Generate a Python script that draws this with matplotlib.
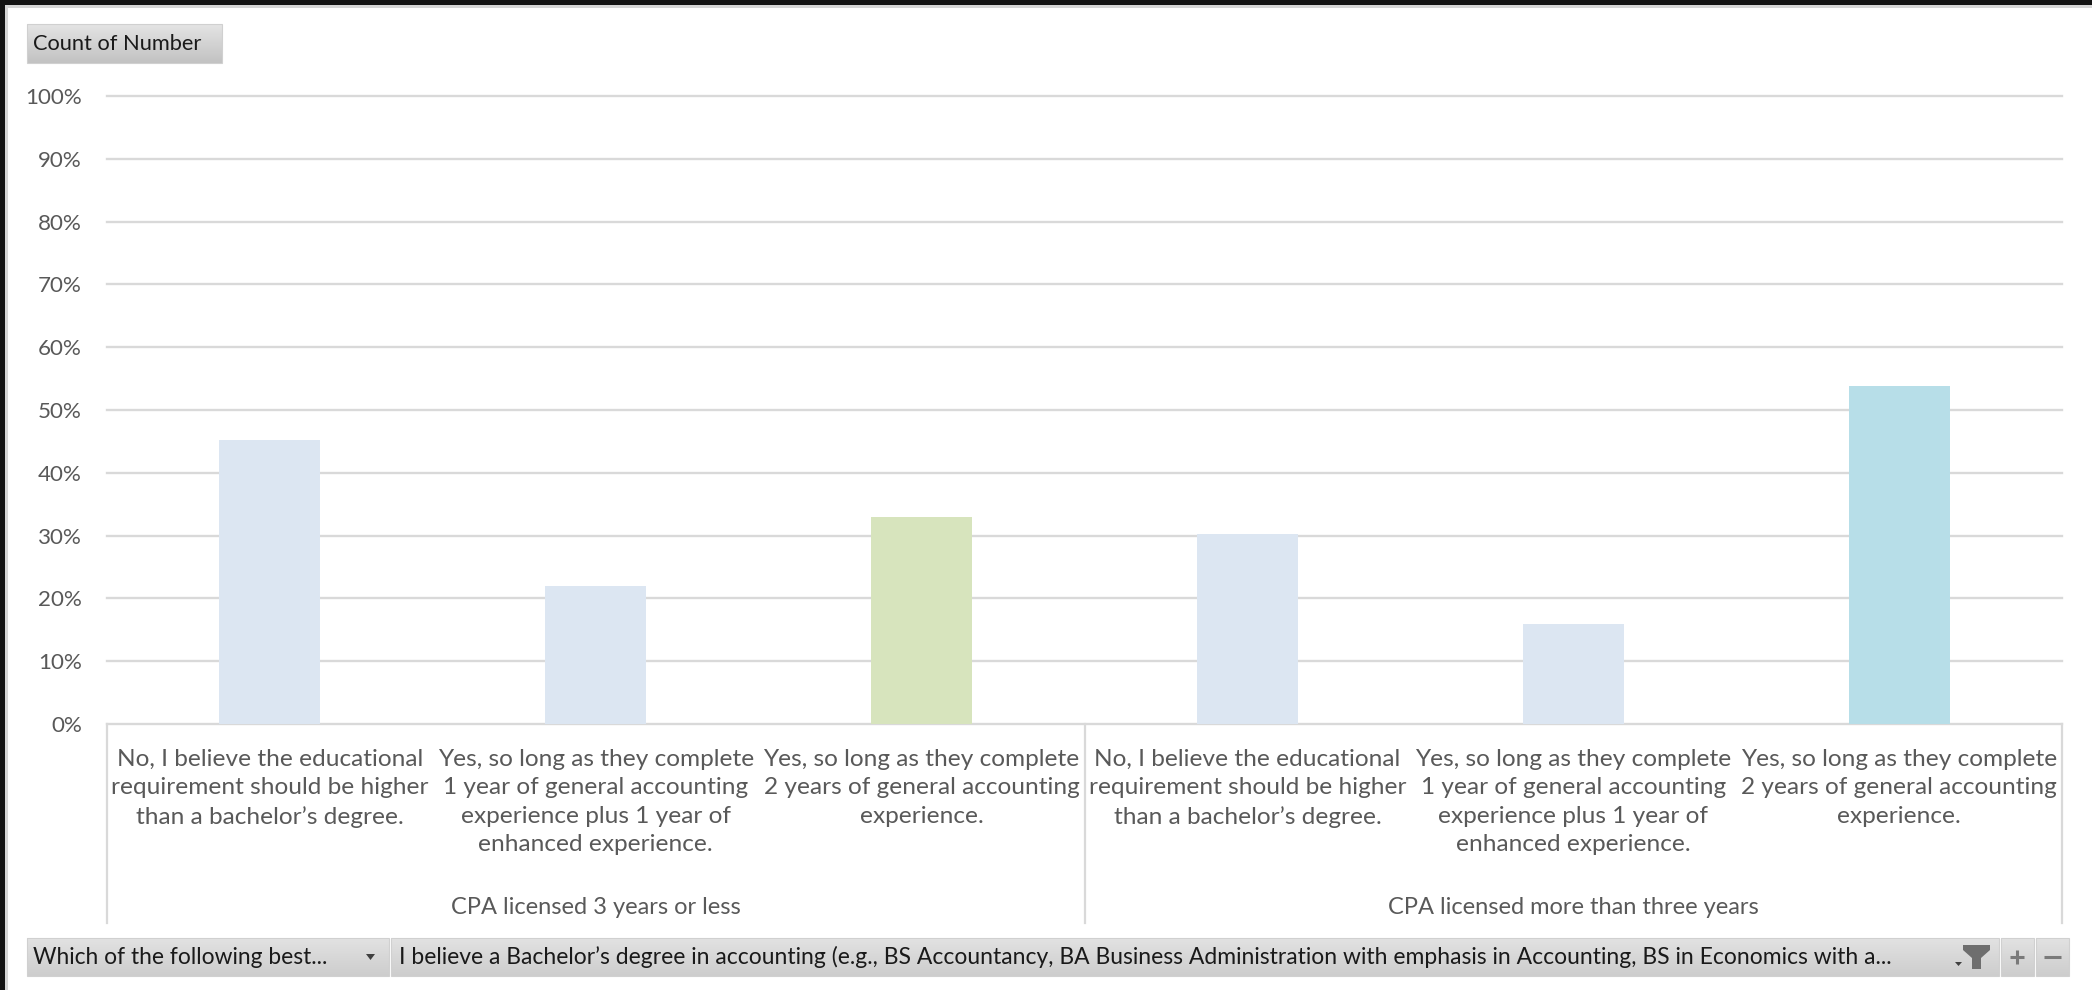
import matplotlib
matplotlib.use("Agg")
import matplotlib.pyplot as plt
import numpy as np
from matplotlib.patches import Rectangle, Polygon
import matplotlib.transforms as mtransforms

# ---------------- data ----------------
groups = ["CPA licensed 3 years or less", "CPA licensed more than three years"]
answers = [
    "No, I believe the educational\nrequirement should be higher\nthan a bachelor\u2019s degree.",
    "Yes, so long as they complete\n1 year of general accounting\nexperience plus 1 year of\nenhanced experience.",
    "Yes, so long as they complete\n2 years of general accounting\nexperience.",
]
values_group1 = [0.452, 0.219, 0.329]
values_group2 = [0.302, 0.159, 0.539]
bar_colors = ["#dce6f2", "#dce6f2", "#d7e4bd", "#dce6f2", "#dce6f2", "#b7dee8"]
y_ticks = [0.0, 0.1, 0.2, 0.3, 0.4, 0.5, 0.6, 0.7, 0.8, 0.9, 1.0]
y_tick_labels = ["0%", "10%", "20%", "30%", "40%", "50%", "60%", "70%", "80%", "90%", "100%"]
field_button = "Count of Number"
filter_left = "Which of the following best..."
filter_right = ("I believe a Bachelor\u2019s degree in accounting (e.g., BS Accountancy, BA Business "
                "Administration with emphasis in Accounting, BS in Economics with a...")

FONT = "Lato"
TXT = "#595959"
GRID = "#d9d9d9"

W, H = 2092, 990
fig = plt.figure(figsize=(W / 100, H / 100), dpi=100)
fig.patch.set_facecolor("white")
renderer = fig.canvas.get_renderer()


def fit_size(text, target_px, family=FONT):
    t = fig.text(0, 0, text, fontsize=20, family=family)
    w = t.get_window_extent(renderer).width
    t.remove()
    return 20 * target_px / w


fs_cat = fit_size("requirement should be higher", 318)
fs_grp = fit_size("CPA licensed 3 years or less", 291)
fs_tick = fit_size("100%", 57)
fs_btn = fit_size(field_button, 170)
fs_bar1 = fit_size(filter_left, 294)
fs_bar2 = fit_size(filter_right, 1489)

# ---------- chrome overlay (pixel coordinates) ----------
ov = fig.add_axes([0, 0, 1, 1], zorder=0)
ov.set_xlim(0, W)
ov.set_ylim(H, 0)
ov.axis("off")
ov.patch.set_alpha(0)

ov.add_patch(Rectangle((0, 0), W, 5, color="#141414", lw=0))
ov.add_patch(Rectangle((0, 0), 5, H, color="#141414", lw=0))
ov.add_patch(Rectangle((5, 5), W, 2.5, color="#d6d6d6", lw=0))
ov.add_patch(Rectangle((5, 5), 2.5, H, color="#d6d6d6", lw=0))


def grad_button(x0, y0, x1, y1, top="#e6e6e6", bot="#c4c4c4"):
    c0 = np.array(matplotlib.colors.to_rgb(top))
    c1 = np.array(matplotlib.colors.to_rgb(bot))
    t = np.linspace(0, 1, 64)[:, None, None]
    img = c0 * (1 - t) + c1 * t
    ov.imshow(img, extent=(x0, x1, y1, y0), aspect="auto", interpolation="bilinear", zorder=1)
    ov.add_patch(Rectangle((x0, y0), x1 - x0, y1 - y0, fill=False, ec="#d0d0d0", lw=0.8, zorder=2))


grad_button(27, 24, 222, 63, "#e4e4e4", "#c2c2c2")
ov.text(33, 44, field_button, fontsize=fs_btn, family=FONT, color="#1a1a1a", va="center", ha="left", zorder=3)

grad_button(27, 938, 389, 976, "#e2e2e2", "#cdcdcd")
ov.text(33, 957, filter_left, fontsize=fs_bar1, family=FONT, color="#1a1a1a", va="center", ha="left", zorder=3)
ov.add_patch(Polygon([[366, 954], [375, 954], [370.5, 960]], closed=True, color="#404040", lw=0, zorder=3))
grad_button(391, 938, 1999, 976, "#e2e2e2", "#cdcdcd")
ov.text(399, 957, filter_right, fontsize=fs_bar2, family=FONT, color="#1a1a1a", va="center", ha="left", zorder=3)
ov.add_patch(Polygon([[1955, 962], [1962, 962], [1958.5, 966]], closed=True, color="#404040", lw=0, zorder=3))
ov.add_patch(Polygon([[1963, 945], [1990, 945], [1990, 950], [1981, 958], [1981, 969],
                      [1972, 969], [1972, 958], [1963, 950]], closed=True, color="#6e6e6e", lw=0, zorder=3))
grad_button(2001, 938, 2034, 976, "#e2e2e2", "#cdcdcd")
grad_button(2036, 938, 2069, 976, "#e2e2e2", "#cdcdcd")
ov.plot([2010, 2024], [957, 957], color="#7a7a7a", lw=2.2, zorder=3, solid_capstyle="butt")
ov.plot([2017, 2017], [950, 964], color="#7a7a7a", lw=2.2, zorder=3, solid_capstyle="butt")
ov.plot([2044, 2061], [957, 957], color="#7a7a7a", lw=2.2, zorder=3, solid_capstyle="butt")

# ---------- main chart ----------
x_left, x_right = 107, 2062
y_base, y_top = 724, 96
ax = fig.add_axes([x_left / W, 1 - y_base / H, (x_right - x_left) / W, (y_base - y_top) / H], zorder=2)
ax.patch.set_alpha(0)

values = values_group1 + values_group2
labels = answers + answers
xpos = np.arange(len(values))
ax.bar(xpos, values, width=0.31, color=bar_colors, zorder=3, linewidth=0)

ax.set_xlim(-0.5, len(values) - 0.5)
ax.set_ylim(0, 1)
ax.set_yticks(y_ticks)
ax.set_yticklabels(y_tick_labels, family=FONT, fontsize=fs_tick, color=TXT)
ax.set_xticks(xpos)
ax.set_xticklabels(labels, family=FONT, fontsize=fs_cat, color=TXT, linespacing=1.43)
ax.tick_params(axis="y", length=0, pad=18)
ax.tick_params(axis="x", length=0, pad=18)
for s in ax.spines.values():
    s.set_visible(False)
for yv in y_ticks:
    ax.axhline(yv, color=GRID, lw=1.7, zorder=1, clip_on=False)

trans = mtransforms.blended_transform_factory(ax.transData, ax.transAxes)
n_per = len(answers)
h_ax = y_base - y_top
sep_bottom = -(923 - y_base) / h_ax
for g in range(len(groups) + 1):
    xs = g * n_per - 0.5
    ax.plot([xs, xs], [0, sep_bottom], color=GRID, lw=1.6, transform=trans, clip_on=False, zorder=1)
for g, name in enumerate(groups):
    xc = g * n_per + (n_per - 1) / 2
    ax.text(xc, -(907 - y_base) / h_ax, name, transform=trans, ha="center", va="center",
            family=FONT, fontsize=fs_grp, color=TXT)

fig.savefig("out.png", dpi=100, facecolor="white")
